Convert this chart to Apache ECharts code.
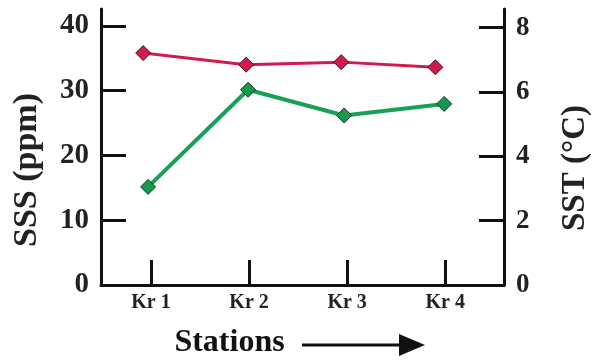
<!DOCTYPE html>
<html>
<head>
<meta charset="utf-8">
<script src="https://cdn.jsdelivr.net/npm/echarts@6/dist/echarts.min.js"></script>
<style>html,body{margin:0;padding:0;background:#fff}#c{width:600px;height:364px}</style>
</head>
<body>
<div id="c"></div>
<script>
// Data
const stations = ['Kr 1', 'Kr 2', 'Kr 3', 'Kr 4'];
const stationPos = [1, 2, 3, 4];
const sssX = [0.92, 1.97, 2.94, 3.90];   // plotted x of SSS markers
const sstX = [0.97, 1.99, 2.97, 3.99];   // plotted x of SST markers
const sss = [35.8, 34.0, 34.4, 33.6];    // ppm, left axis
const sst = [3.05, 6.07, 5.27, 5.63];    // °C, right axis
const sssTicks = [0, 10, 20, 30, 40];
const sstTicks = [0, 2, 4, 6, 8];

const FONT = '"Liberation Serif", "Times New Roman", serif';
const chart = echarts.init(document.getElementById('c'));
chart.setOption({
  backgroundColor: '#fff',
  animation: false,
  grid: { left: 101, right: 82, top: 9, bottom: 76 },
  xAxis: {
    type: 'value', min: 0.49, max: 4.6,
    name: 'Stations', nameLocation: 'middle', nameGap: 42,
    nameTextStyle: { fontFamily: FONT, fontWeight: 'bold', fontSize: 32, color: '#111', padding: [0, 146, 0, 0] },
    axisLine: { lineStyle: { color: '#111', width: 3 } },
    axisTick: { show: true, inside: true, length: 25, lineStyle: { color: '#111', width: 3 }, customValues: stationPos },
    axisLabel: { customValues: stationPos, formatter: v => stations[stationPos.indexOf(v)] || '',
      fontFamily: FONT, fontWeight: 'bold', fontSize: 20, color: '#222', margin: 8 },
    splitLine: { show: false }
  },
  yAxis: [{
    type: 'value', min: 0, max: 42.6, position: 'left',
    name: 'SSS (ppm)', nameLocation: 'middle', nameRotate: 90, nameGap: 57,
    nameTextStyle: { fontFamily: FONT, fontWeight: 'bold', fontSize: 34, color: '#222', padding: [0, 46, 0, 0] },
    axisLine: { show: true, lineStyle: { color: '#111', width: 3 } },
    axisTick: { show: true, inside: true, length: 25, lineStyle: { color: '#111', width: 3 }, customValues: sssTicks },
    axisLabel: { customValues: sssTicks, fontFamily: FONT, fontWeight: 'bold', fontSize: 29, color: '#222', margin: 12 },
    splitLine: { show: false }
  }, {
    type: 'value', min: 0, max: 8.58, position: 'right',
    name: 'SST (°C)', nameLocation: 'middle', nameRotate: 90, nameGap: 55,
    nameTextStyle: { fontFamily: FONT, fontWeight: 'bold', fontSize: 33, color: '#222', padding: [0, 42, 0, 0] },
    axisLine: { show: true, lineStyle: { color: '#111', width: 3 } },
    axisTick: { show: true, inside: true, length: 25, lineStyle: { color: '#111', width: 3 }, customValues: sstTicks },
    axisLabel: { customValues: sstTicks, fontFamily: FONT, fontWeight: 'bold', fontSize: 27, color: '#222', margin: 12 },
    splitLine: { show: false }
  }],
  series: [{
    name: 'SSS', type: 'line', yAxisIndex: 0,
    data: sss.map((v, i) => [sssX[i], v]),
    symbol: 'diamond', symbolSize: 15,
    lineStyle: { color: '#d31a4e', width: 3 },
    itemStyle: { color: '#d31a4e', borderColor: '#3a1a22', borderWidth: 1 }
  }, {
    name: 'SST', type: 'line', yAxisIndex: 1,
    data: sst.map((v, i) => [sstX[i], v]),
    symbol: 'diamond', symbolSize: 15,
    lineStyle: { color: '#17a155', width: 4 },
    itemStyle: { color: '#15994f', borderColor: '#1a3322', borderWidth: 1 }
  }],
  graphic: [{
    type: 'group', silent: true,
    children: [
      { type: 'line', shape: { x1: 302, y1: 345, x2: 404, y2: 345 }, style: { stroke: '#111', lineWidth: 3 } },
      { type: 'polygon', shape: { points: [[399, 334], [425, 345], [399, 356]] }, style: { fill: '#111' } }
    ]
  }]
});
</script>
</body>
</html>
